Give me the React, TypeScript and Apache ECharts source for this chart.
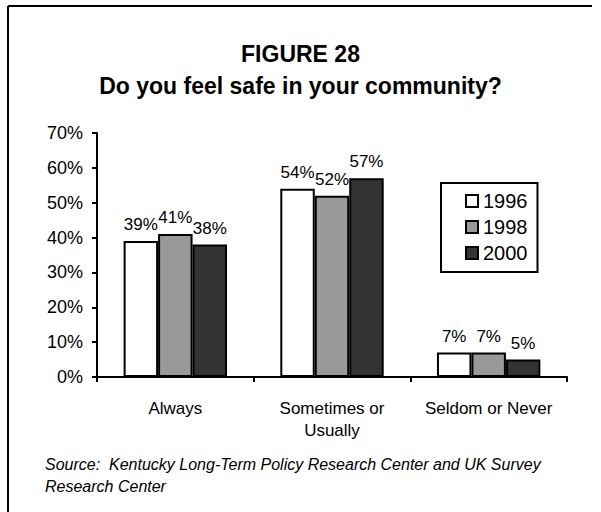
import React, { useEffect, useRef } from "react";
import * as echarts from "echarts";

const categories = ["Always", "Sometimes or\nUsually", "Seldom or Never"];
const years = ["1996", "1998", "2000"];
const values1996 = [39, 54, 7];
const values1998 = [41, 52, 7];
const values2000 = [38, 57, 5];
const yTicks = [0, 10, 20, 30, 40, 50, 60, 70];
const colors = ["#ffffff", "#999999", "#333333"];

export default function App() {
  const ref = useRef<HTMLDivElement>(null);
  useEffect(() => {
    if (!ref.current) return;
    const chart = echarts.init(ref.current, null, { renderer: "svg" });
    const font = "Arial, 'Liberation Sans', sans-serif";
    const seriesData = [values1996, values1998, values2000];
    chart.setOption({
      animation: false,
      backgroundColor: "#ffffff",
      textStyle: { fontFamily: font, color: "#000" },
      title: [
        {
          text: "FIGURE 28",
          left: "center",
          top: 37,
          textStyle: { fontSize: 23, fontWeight: "bold", fontFamily: font, color: "#000" },
        },
        {
          text: "Do you feel safe in your community?",
          left: "center",
          top: 69,
          textStyle: { fontSize: 23, fontWeight: "bold", fontFamily: font, color: "#000" },
        },
      ],
      legend: {
        orient: "vertical",
        left: 441,
        top: 183,
        width: 112,
        data: years,
        itemWidth: 12,
        itemHeight: 12,
        itemGap: 6,
        padding: [8, 10, 9, 24],
        borderColor: "#000",
        borderWidth: 2,
        icon: "rect",
        textStyle: { fontSize: 20, fontFamily: font, color: "#000" },
      },
      grid: { left: 97, right: 34, top: 133, bottom: 135, containLabel: false },
      xAxis: {
        type: "category",
        data: categories,
        axisLine: { lineStyle: { color: "#000", width: 2 } },
        axisTick: { show: true, length: 5, lineStyle: { color: "#000", width: 2 } },
        axisLabel: { fontSize: 17, fontFamily: font, color: "#000", margin: 20, lineHeight: 22, interval: 0 },
      },
      yAxis: {
        type: "value",
        min: 0,
        max: 70,
        interval: 10,
        splitLine: { show: false },
        axisLine: { show: true, lineStyle: { color: "#000", width: 2 } },
        axisTick: { show: true, length: 5, lineStyle: { color: "#000", width: 2 } },
        axisLabel: {
          fontSize: 18,
          fontFamily: font,
          color: "#000",
          margin: 14,
          formatter: (v: number) => (yTicks.includes(v) ? v + "%" : ""),
        },
      },
      series: years.map((y, i) => ({
        name: y,
        type: "bar",
        data: seriesData[i],
        barGap: "0%",
        barCategoryGap: "34%",
        itemStyle: { color: colors[i], borderColor: "#000", borderWidth: 2 },
        label: {
          show: true,
          position: "top",
          distance: 8,
          formatter: "{c}%",
          fontSize: 17,
          fontFamily: font,
          color: "#000",
        },
      })),
      graphic: [
        { type: "line", shape: { x1: 8, y1: 6, x2: 592, y2: 6 }, style: { stroke: "#000", lineWidth: 2 } },
        { type: "line", shape: { x1: 8, y1: 6, x2: 8, y2: 512 }, style: { stroke: "#000", lineWidth: 2 } },
        {
          type: "text",
          left: 45,
          top: 453,
          style: {
            text: "Source:  Kentucky Long-Term Policy Research Center and UK Survey\nResearch Center",
            font: "italic 16px Arial, 'Liberation Sans', sans-serif",
            fill: "#000",
            lineHeight: 22,
          },
        },
      ],
    });
    return () => chart.dispose();
  }, []);
  return (
    <div
      ref={ref}
      style={{ position: "absolute", left: 0, top: 0, width: 601, height: 512 }}
    />
  );
}
